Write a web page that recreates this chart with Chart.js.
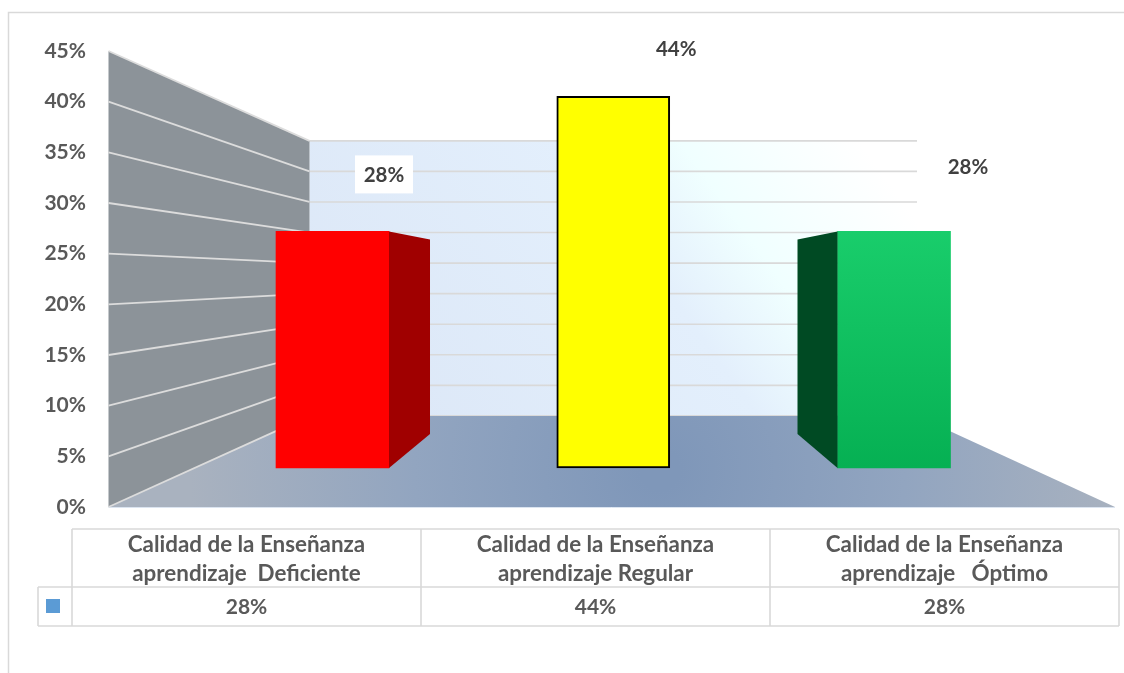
<!DOCTYPE html>
<html><head><meta charset="utf-8">
<style>html,body{margin:0;padding:0;background:#fff;overflow:hidden}canvas{display:block}</style>
<script src="https://cdn.jsdelivr.net/npm/chart.js@4"></script>
</head><body><canvas id="c" width="1124" height="673"></canvas>
<script>
const categories = [
  ['Calidad de la Enseñanza', 'aprendizaje  Deficiente'],
  ['Calidad de la Enseñanza', 'aprendizaje Regular'],
  ['Calidad de la Enseñanza', 'aprendizaje   Óptimo']
];
const values = [28, 44, 28];
const yTicks = [0, 5, 10, 15, 20, 25, 30, 35, 40, 45];
const barFills = ['#ff0000', '#ffff00', '#10c15f'];
const barBorders = ['#ff0000', '#000000', '#10c15f'];
const barBorderWidths = [0, 2, 0];
const sideFills = ['#a00000', null, '#004a23'];
const sideDepth = [41, 0, -40];
const labelOffset = [[51.5, -56], [63, -47], [74, -64]];
const labelBoxes = [true, false, false];

const FONT = 'Lato, Carlito, "Open Sans", sans-serif';
const WALL_L = 108.5, WALL_R = 309.5, BACK_R = 917, FLOOR_R = 1115;

const scene = {
  id: 'scene',
  beforeDraw(chart) {
    const c = chart.ctx, yF = chart.scales.y, yB = chart.scales.yBack;
    c.save();
    // outer frame
    c.strokeStyle = '#d9d9d9'; c.lineWidth = 1.5;
    c.beginPath(); c.moveTo(8.5, 673); c.lineTo(8.5, 12.5); c.lineTo(1124, 12.5); c.stroke();
    // back wall
    const t = yB.getPixelForValue(45), b = yB.getPixelForValue(0);
    let g = c.createLinearGradient(WALL_R, b, 800, 60);
    g.addColorStop(0, '#dbe6f6'); g.addColorStop(0.6, '#e3effc');
    g.addColorStop(0.76, '#f0ffff'); g.addColorStop(1, '#ffffff');
    c.fillStyle = g; c.fillRect(WALL_R, t, BACK_R - WALL_R, b - t);
    c.strokeStyle = '#d9d9d9'; c.lineWidth = 1.6;
    yTicks.forEach(v => { const p = yB.getPixelForValue(v);
      c.beginPath(); c.moveTo(WALL_R, p); c.lineTo(BACK_R, p); c.stroke(); });
    // left wall
    c.fillStyle = '#8c9399';
    c.beginPath(); c.moveTo(WALL_L, yF.getPixelForValue(45)); c.lineTo(WALL_R, t);
    c.lineTo(WALL_R, b); c.lineTo(WALL_L, yF.getPixelForValue(0)); c.closePath(); c.fill();
    // floor
    const fy = yF.getPixelForValue(0);
    g = c.createRadialGradient(660, 470, 20, 660, 470, 470);
    g.addColorStop(0, '#7f97b9'); g.addColorStop(0.5, '#92a5c0'); g.addColorStop(1, '#a9b2bf');
    c.fillStyle = g;
    c.beginPath(); c.moveTo(WALL_L, fy); c.lineTo(WALL_R, b); c.lineTo(BACK_R, b); c.lineTo(FLOOR_R, fy); c.closePath(); c.fill();
    c.strokeStyle = '#dbe4f0'; c.lineWidth = 1;
    c.beginPath(); c.moveTo(WALL_L, fy + .5); c.lineTo(FLOOR_R, fy + .5); c.stroke();
    // wall grid lines
    c.strokeStyle = '#dcdcdc'; c.lineWidth = 1.8;
    yTicks.forEach(v => { c.beginPath(); c.moveTo(WALL_L, yF.getPixelForValue(v)); c.lineTo(WALL_R, yB.getPixelForValue(v)); c.stroke(); });
    c.restore();
  },
  afterDatasetsDraw(chart) {
    const c = chart.ctx, bars = chart.getDatasetMeta(0).data;
    c.save();
    bars.forEach((bar, i) => {
      if (!sideFills[i]) return;
      const edge = bar.x + (sideDepth[i] > 0 ? 56.5 : -56.5), d = sideDepth[i];
      c.fillStyle = sideFills[i];
      c.beginPath(); c.moveTo(edge, bar.y); c.lineTo(edge + d, bar.y + 8);
      c.lineTo(edge + d, bar.base - 34); c.lineTo(edge, bar.base); c.closePath(); c.fill();
    });
    c.font = 'bold 20.5px ' + FONT; c.textAlign = 'center'; c.textBaseline = 'middle';
    bars.forEach((bar, i) => {
      const x = bar.x + labelOffset[i][0], y = bar.y + labelOffset[i][1];
      if (labelBoxes[i]) { c.fillStyle = '#ffffff'; c.fillRect(x - 29, y - 20, 58, 38); }
      c.fillStyle = '#404040'; c.fillText(values[i] + '%', x, y);
    });
    c.restore();
  },
  afterDraw(chart) {
    const c = chart.ctx, xs = chart.scales.x;
    const tableTop = xs.bottom - 58, rowTop = xs.bottom, rowBot = chart.scales.xv.bottom;
    const L = chart.chartArea.left, R = chart.chartArea.right, W = (R - L) / categories.length;
    c.save();
    c.strokeStyle = '#d9d9d9'; c.lineWidth = 1.6;
    c.beginPath();
    c.moveTo(L, tableTop); c.lineTo(R, tableTop);
    c.moveTo(38, rowTop); c.lineTo(R, rowTop);
    c.moveTo(38, rowBot); c.lineTo(R, rowBot);
    c.moveTo(38, rowTop); c.lineTo(38, rowBot);
    for (let i = 0; i <= categories.length; i++) { c.moveTo(L + i * W, tableTop); c.lineTo(L + i * W, rowBot); }
    c.stroke();
    c.fillStyle = '#5b9bd5'; c.fillRect(46, rowTop + 12, 14, 14);
    c.restore();
  }
};

new Chart(document.getElementById('c'), {
  type: 'bar',
  data: {
    labels: categories,
    datasets: [{
      label: 'Calidad',
      data: values.map((v, i) => ({ x: i, y: v })),
      xAxisID: 'xBar', yAxisID: 'yBar',
      barThickness: 113,
      borderSkipped: false,
      backgroundColor: ctx => {
        if (ctx.dataIndex !== 2) return barFills[ctx.dataIndex];
        const s = ctx.chart.scales.yBar;
        const g = ctx.chart.ctx.createLinearGradient(0, s.getPixelForValue(28), 0, s.getPixelForValue(0));
        g.addColorStop(0, '#19cd6b'); g.addColorStop(1, '#06b053');
        return g;
      },
      borderColor: barBorders,
      borderWidth: barBorderWidths
    }]
  },
  plugins: [scene],
  options: {
    responsive: false, animation: false,
    layout: { padding: { left: 0, right: 5, top: 51, bottom: 47 } },
    plugins: { legend: { display: false }, tooltip: { enabled: false } },
    scales: {
      xBar: { type: 'linear', display: false, offset: false, min: -0.9279, max: 2.8014, grid: { display: false } },
      yBar: { type: 'linear', display: false, min: -4.615, max: 49.35, grid: { display: false } },
      yBack: { type: 'linear', display: false, min: -14.9, max: 59.7, grid: { display: false } },
      y: {
        type: 'linear', position: 'left', min: 0, max: 45,
        border: { display: false }, grid: { display: false, drawTicks: false },
        afterFit(s) { s.width = 72; s._computeLabelArea = () => undefined; },
        afterBuildTicks(s) { s.ticks = yTicks.map(v => ({ value: v })); },
        ticks: { padding: -14, color: '#595959', font: { family: FONT, size: 21, weight: 'bold' }, callback: v => v + '%' }
      },
      x: {
        type: 'category', position: 'bottom', labels: categories, offset: true, weight: 0,
        border: { display: false }, grid: { display: false, drawTicks: false },
        afterFit(s) { s.height = 80; },
        ticks: { padding: 23, maxRotation: 0, autoSkip: false, color: '#595959', font: { family: FONT, size: 22.4, weight: 'bold', lineHeight: 1.295 } }
      },
      xv: {
        type: 'category', position: 'bottom', labels: values.map(v => v + '%'), offset: true, weight: 1,
        border: { display: false }, grid: { display: false, drawTicks: false },
        afterFit(s) { s.height = 39; },
        ticks: { padding: 8, maxRotation: 0, autoSkip: false, color: '#595959', font: { family: FONT, size: 21, weight: 'bold' } }
      }
    }
  }
});
</script></body></html>
